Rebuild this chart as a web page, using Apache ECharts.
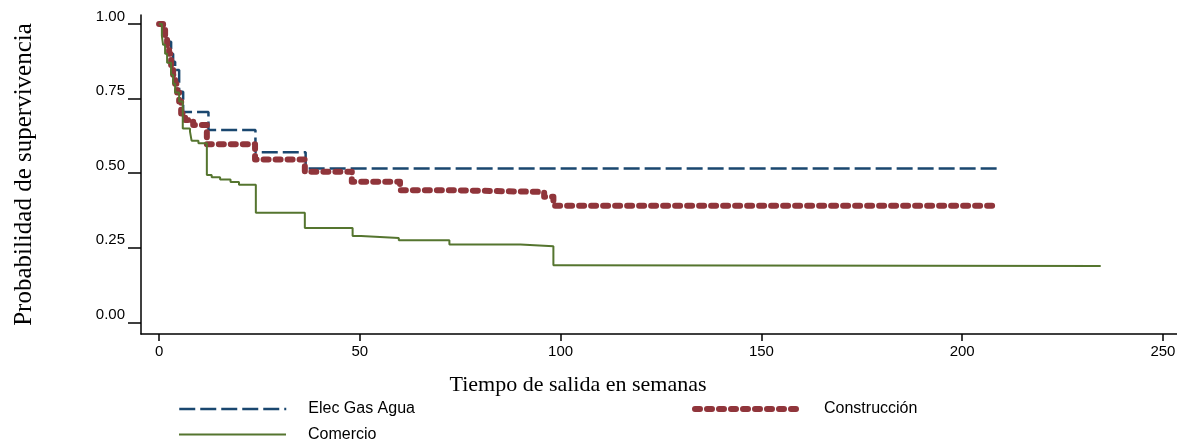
<!DOCTYPE html>
<html><head><meta charset="utf-8">
<script src="https://cdn.jsdelivr.net/npm/echarts@6/dist/echarts.min.js"></script>
<style>html,body{margin:0;padding:0;background:#fff}#c{width:1177px;height:441px}</style>
</head><body><div id="c"></div>
<script>
const seriesNames = ['Elec Gas Agua', 'Construcción', 'Comercio'];
const xTickValues = [0, 50, 100, 150, 200, 250];
const yTickValues = [0, 0.25, 0.5, 0.75, 1];

// Elec Gas Agua: time (weeks) at which survival steps, and survival after step
const elecT = [0, 1, 2, 3, 3.5, 4, 5, 6, 12.3, 24, 36.5, 209];
const elecS = [1.0, 0.97, 0.94, 0.90, 0.873, 0.846, 0.773, 0.705, 0.645, 0.570, 0.516, 0.516];

// Construcción
const consT = [0, 1, 1.5, 2, 2.5, 3, 3.5, 4, 4.5, 5, 5.5, 6.5, 8.5, 11.9, 23.9, 36.3, 48, 60, 71.6, 95.9, 98.2, 209];
const consS = [1.0, 0.98, 0.95, 0.92, 0.90, 0.86, 0.83, 0.80, 0.77, 0.74, 0.70, 0.678, 0.661, 0.597, 0.546, 0.505, 0.471, 0.443, 0.437, 0.421, 0.391, 0.391];

// Comercio
const comT = [0, 0.7, 1, 1.5, 2, 3, 3.5, 4, 5, 5.9, 7.7, 8.1, 9.8, 11.9, 13.1, 15.2, 17.8, 19.9, 24.1, 36.3, 48.2, 50.3, 59.7, 72.3, 90, 98.2, 99.2, 234.5];
const comS = [1.0, 0.96, 0.93, 0.90, 0.87, 0.83, 0.80, 0.77, 0.74, 0.65, 0.639, 0.609, 0.600, 0.494, 0.486, 0.479, 0.470, 0.461, 0.367, 0.316, 0.289, 0.283, 0.275, 0.261, 0.255, 0.191, 0.189, 0.189];

// Kaplan-Meier step function: hold previous survival until the event time, then drop
function stepPairs(t, s) {
  const out = [[t[0], s[0]]];
  for (let i = 1; i < t.length; i++) {
    out.push([t[i], s[i - 1]]);
    out.push([t[i], s[i]]);
  }
  return out;
}

const BLUE = '#1a476f', RED = '#90353b', GREEN = '#55752f';
const sansFont = 'Liberation Sans, Arial, sans-serif';
const serifFont = 'Liberation Serif, Times New Roman, serif';
const hiddenSymbol = { color: 'rgba(0,0,0,0)', borderWidth: 0, opacity: 0 };

const legendBase = {
  orient: 'horizontal', itemWidth: 107, itemHeight: 14, itemGap: 0,
  selectedMode: false, padding: 0,
  textStyle: { fontFamily: sansFont, fontSize: 16, color: '#000', padding: [0, 0, 0, 17] }
};

const RED_DASH = [5, 7];
const BLUE_DASH = [16, 5];

const chart = echarts.init(document.getElementById('c'), null, { renderer: 'canvas' });
chart.setOption({
  animation: false,
  backgroundColor: '#fff',
  title: {
    text: 'Tiempo de salida en semanas', left: 578, top: 374, textAlign: 'center', padding: 0,
    textStyle: { fontFamily: serifFont, fontSize: 22, fontWeight: 'normal', color: '#000' }
  },
  legend: [
    Object.assign({}, legendBase, { left: 178, top: 401,
      data: [{ name: seriesNames[0], itemStyle: hiddenSymbol, lineStyle: { width: 2.5, type: BLUE_DASH, color: BLUE } }] }),
    Object.assign({}, legendBase, { left: 692, top: 401,
      data: [{ name: seriesNames[1], itemStyle: hiddenSymbol, lineStyle: { width: 6, type: RED_DASH, cap: 'round', color: RED } }] }),
    Object.assign({}, legendBase, { left: 178, top: 426.5,
      data: [{ name: seriesNames[2], itemStyle: hiddenSymbol, lineStyle: { width: 2, type: 'solid', color: GREEN } }] })
  ],
  grid: { left: 141, right: 0, top: 15, bottom: 107, outerBoundsMode: 'none', containLabel: false },
  xAxis: {
    type: 'value', min: -4.5, max: 253.5,
    axisLine: { show: true, onZero: false, lineStyle: { color: '#000', width: 1.5 } },
    axisTick: { show: true, length: 7, lineStyle: { color: '#000', width: 1.5 }, customValues: xTickValues },
    axisLabel: { customValues: xTickValues, margin: 10, fontFamily: sansFont, fontSize: 15, color: '#000' },
    splitLine: { show: false }
  },
  yAxis: {
    type: 'value', min: -0.039, max: 1.03,
    name: 'Probabilidad de supervivencia', nameLocation: 'middle', nameGap: 104,
    nameTextStyle: { fontFamily: serifFont, fontSize: 25, color: '#000' },
    axisLine: { show: true, onZero: false, lineStyle: { color: '#000', width: 1.5 } },
    axisTick: { show: true, length: 13, lineStyle: { color: '#000', width: 1.5 }, customValues: yTickValues },
    axisLabel: { customValues: yTickValues, margin: 16, verticalAlign: 'bottom', fontFamily: sansFont, fontSize: 15, color: '#000',
      formatter: v => Number(v).toFixed(2) },
    splitLine: { show: false }
  },
  series: [
    { name: seriesNames[0], type: 'line', symbol: 'none', z: 2,
      data: stepPairs(elecT, elecS), itemStyle: { color: BLUE },
      lineStyle: { color: BLUE, width: 2.5, type: BLUE_DASH } },
    { name: seriesNames[1], type: 'line', symbol: 'none', z: 3,
      data: stepPairs(consT, consS), itemStyle: { color: RED },
      lineStyle: { color: RED, width: 6, type: RED_DASH, cap: 'round', join: 'round' } },
    { name: seriesNames[2], type: 'line', symbol: 'none', z: 4,
      data: stepPairs(comT, comS), itemStyle: { color: GREEN },
      lineStyle: { color: GREEN, width: 2 } }
  ]
});
</script></body></html>
